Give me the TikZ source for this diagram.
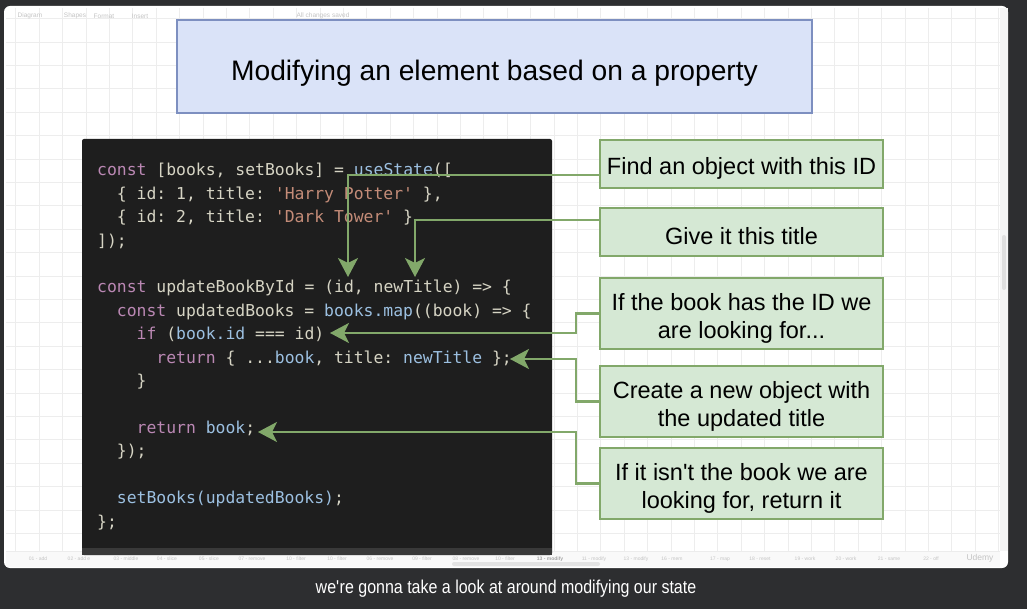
\documentclass[tikz,border=0pt]{standalone}
\usepackage{fontspec}
\setmainfont{Liberation Sans}
\setmonofont{DejaVu Sans Mono}
\newfontfamily\capfont[FakeStretch=0.86]{Liberation Sans}
\usetikzlibrary{positioning,arrows.meta}

\definecolor{screenbg}{HTML}{2D2E30}
\definecolor{gridgray}{HTML}{EDEDED}
\definecolor{titlefill}{HTML}{DAE3F8}
\definecolor{titleborder}{HTML}{7D8FC0}
\definecolor{notefill}{HTML}{D5E8D4}
\definecolor{noteborder}{HTML}{82A86A}
\definecolor{codebg}{HTML}{1E1E1E}
\definecolor{codetext}{HTML}{D6D4C4}
\definecolor{codekw}{HTML}{BB88B4}
\definecolor{codevar}{HTML}{9CC0E1}
\definecolor{codestr}{HTML}{C48C78}
\definecolor{chrome}{HTML}{C4C4C4}

\newcommand{\cKw}[1]{\textcolor{codekw}{#1}}
\newcommand{\cVar}[1]{\textcolor{codevar}{#1}}
\newcommand{\cStr}[1]{\textcolor{codestr}{#1}}
\newcommand{\noteStrut}{\rule{0pt}{26pt}}

\begin{document}
\begin{tikzpicture}[x=1pt, y=-1pt, >={Stealth[length=19pt,width=20pt,inset=5pt]},
  every node/.style={inner sep=0pt},
  note/.style={draw=noteborder, line width=2pt, fill=notefill, minimum width=283pt, anchor=north west, align=center,
    font={\fontsize{23.5}{28}\selectfont}},
  code/.style={anchor=base west, text=codetext, font={\ttfamily\fontsize{16.4}{20}\selectfont}},
  link/.style={->, draw=noteborder, line width=2.5pt},
  tab/.style={text=chrome, font={\fontsize{5}{6}\selectfont}},
  bar/.style={text=chrome, font={\fontsize{6.5}{8}\selectfont}}]
  \useasboundingbox (0,0) rectangle (1027,609);
  \fill[screenbg] (0,0) rectangle (1027,609);
  % canvas with grid
  \fill[white, rounded corners=6pt] (4,6) rectangle (1008,568);
  \foreach \i in {0,...,42} {\draw[gridgray, line width=0.8pt] ({15.8+23.4*\i},8) -- ++(0,543);}
  \foreach \j in {0,...,22} {\draw[gridgray, line width=0.8pt] (6,{18.6+23.4*\j}) -- ++(994,0);}
  \fill[gray!8] (1000,8) rectangle (1008,551);
  \fill[gray!25, rounded corners=2pt] (1002,235) rectangle (1006,290);
  \fill[gray!5] (6,551) rectangle (1000,567);
  \draw[gray!15] (6,551) -- (1000,551);
  \fill[gray!22, rounded corners=2pt] (452,562) rectangle (600,566);
  % toolbar
  \node[bar] (tb1) at (30,16) {Diagram};
  \node[bar] (tb2) at (75,16) {Shapes};
  \node[bar] (tb3) at (104,16) {Format};
  \node[bar] (tb4) at (140,16) {Insert};
  \node[bar] (tb5) at (323,16) {All changes saved};
  % tabs
  \foreach \tx/\tl in {38/01 - add, 79/02 - add e, 126/03 - middle, 167/04 - slice, 209/05 - slice,
      252/07 - remove, 296/10 - filter, 337/10 - filter, 380/06 - remove, 422/09 - filter,
      466/08 - remove, 505/10 - filter, 594/11 - modify, 636/13 - modify, 672/16 - mem,
      720/17 - map, 760/18 - reset, 805/19 - work, 846/20 - work, 889/21 - same, 931/22 - off}
    {\node[tab] at (\tx,559) {\tl};}
  \node[tab, text=gray!70, font={\bfseries\fontsize{5}{6}\selectfont}] (cur) at (550,559) {13 - modify};
  \node[tab, font={\fontsize{8.5}{9}\selectfont}] (logo) at (980,558) {Udemy};

  % title
  \node[draw=titleborder, line width=2pt, fill=titlefill, minimum width=635pt, minimum height=93pt,
    anchor=north west, font={\fontsize{28.2}{32}\selectfont}] (title) at (176,19) {\rule{0pt}{33pt}Modifying an element based on a property};

  % code panel
  \fill[codebg, rounded corners=2pt] (82,139) rectangle (552,555);
  \fill[gray!45!black] (82,548) rectangle (552,555);
  \node[code] (l1) at (97,176) {\cKw{const} [books, setBooks] = \cVar{useState}([};
  \node[code] (l2) at (116.7,199.4) {\{ id: 1, title: \cStr{'Harry Potter'} \},};
  \node[code] (l3) at (116.7,222.8) {\{ id: 2, title: \cStr{'Dark Tower'} \}};
  \node[code] (l4) at (97,246.2) {]);};
  \node[code] (l5) at (97,293) {\cKw{const} updateBookById = (id, newTitle) => \{};
  \node[code] (l6) at (116.7,316.4) {\cKw{const} updatedBooks = \cVar{books.map}((book) => \{};
  \node[code] (l7) at (136.5,339.8) {\cKw{if} (\cVar{book.id} === id)};
  \node[code] (l8) at (156.2,363.2) {\cKw{return} \{ ...\cVar{book}, title: \cVar{newTitle} \};};
  \node[code] (l9) at (136.5,386.6) {\}};
  \node[code] (l10) at (136.5,433.4) {\cKw{return} \cVar{book};};
  \node[code] (l11) at (116.7,456.8) {\});};
  \node[code] (l12) at (116.7,503.6) {\cVar{setBooks(updatedBooks)};};
  \node[code] (l13) at (97,527) {\};};

  % notes
  \node[note, minimum height=48pt] (find) at (599,139) {\noteStrut Find an object with this ID};
  \node[note, minimum height=48pt] (give) at (599,207) {\noteStrut Give it this title};
  \node[note, minimum height=71pt] (check) at (599,277) {\noteStrut If the book has the ID we\\are looking for...};
  \node[note, minimum height=71pt] (create) at (599,365) {\noteStrut Create a new object with\\the updated title};
  \node[note, minimum height=71pt] (other) at (599,447) {\noteStrut If it isn\textquotesingle t the book we are\\looking for, return it};

  % arrows into the code
  \coordinate (tipA) at (348,277);
  \coordinate (tipB) at (415,277);
  \coordinate (tipC) at (330,333);
  \coordinate (tipD) at (510,359);
  \coordinate (tipE) at (258,432);
  \draw[link] ([yshift=-11pt]find.west) -| (tipA);
  \draw[link] ([yshift=12pt]give.west) -| (tipB);
  \draw[link] (check.west) -- ++(-23,0) |- (tipC);
  \draw[link] (create.west) -- ++(-23,0) |- (tipD);
  \draw[link] (other.west) -- ++(-23,0) |- (tipE);

  % subtitle
  \node[text=white, font={\capfont\fontsize{18.6}{21}\selectfont}] (cap) at (506,589) {we\textquotesingle re gonna take a look at around modifying our state};
\end{tikzpicture}
\end{document}
